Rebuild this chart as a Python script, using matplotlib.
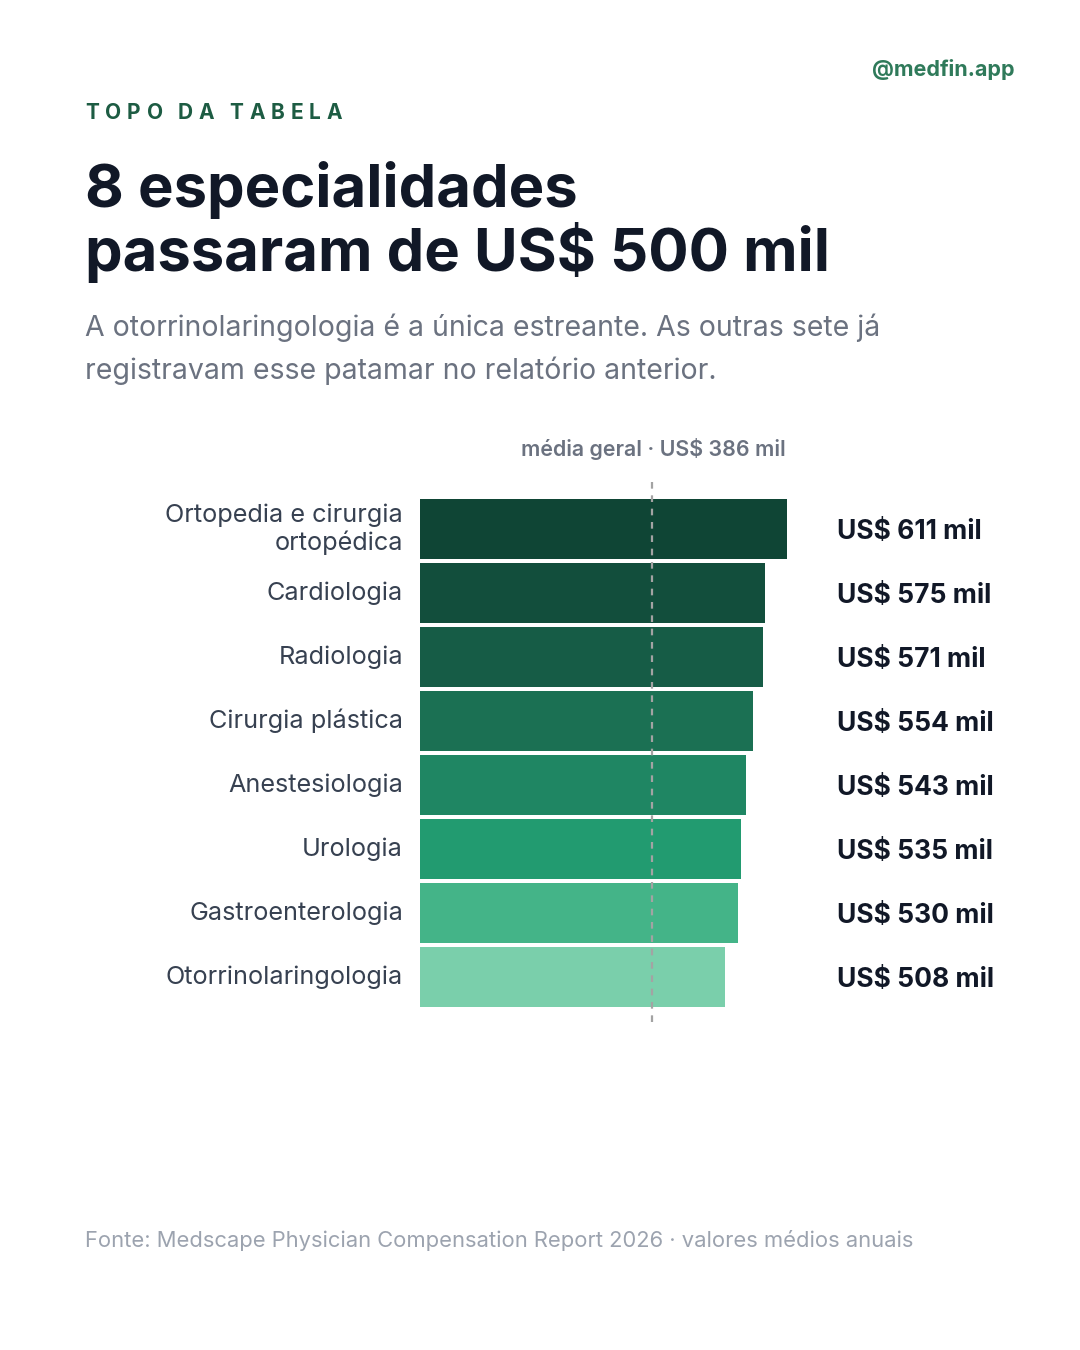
import matplotlib
matplotlib.use("Agg")
import matplotlib.pyplot as plt

# Dados
especialidades = ["Ortopedia e cirurgia\nortopédica", "Cardiologia", "Radiologia",
                  "Cirurgia plástica", "Anestesiologia", "Urologia",
                  "Gastroenterologia", "Otorrinolaringologia"]
valores = [611, 575, 571, 554, 543, 535, 530, 508]
rotulos = ["US$ 611 mil", "US$ 575 mil", "US$ 571 mil", "US$ 554 mil",
           "US$ 543 mil", "US$ 535 mil", "US$ 530 mil", "US$ 508 mil"]
media_geral = 386
cores = ["#0f4535", "#124e3c", "#165c46", "#1b7053", "#1f8663",
         "#229b70", "#44b488", "#7acfab"]

W, H = 1080, 1350
plt.rcParams["font.family"] = ["Inter", "DejaVu Sans"]

fig = plt.figure(figsize=(W / 100, H / 100), dpi=100)
fig.patch.set_facecolor("white")


def fx(x):
    return x / W


def fy(y):
    return 1 - y / H


# Cabecalho
fig.text(fx(1015), fy(76), "@medfin.app", ha="right", va="baseline",
         fontsize=15.5, fontweight="bold", color="#2f7a5a")

# "TOPO DA TABELA" com espacamento entre letras
renderer = fig.canvas.get_renderer()
x_cur = 85
for ch in "TOPO DA TABELA":
    t = fig.text(fx(x_cur), fy(119), ch, ha="left", va="baseline",
                 fontsize=15, fontweight="bold", color="#1d5c43")
    if ch == " ":
        w = 3
    else:
        w = t.get_window_extent(renderer).width
    x_cur += w + 6.0

fig.text(fx(85), fy(207), "8 especialidades", ha="left", va="baseline",
         fontsize=43, fontweight="bold", color="#111827")
fig.text(fx(85), fy(271), "passaram de US$ 500 mil", ha="left", va="baseline",
         fontsize=43, fontweight="bold", color="#111827")

fig.text(fx(85), fy(336), "A otorrinolaringologia é a única estreante. As outras sete já",
         ha="left", va="baseline", fontsize=20.5, color="#6b7280")
fig.text(fx(85), fy(379), "registravam esse patamar no relatório anterior.",
         ha="left", va="baseline", fontsize=20.5, color="#6b7280")

# Grafico
px_por_unid = (787 - 420) / 611
ax_left, ax_right = 420, 1000
ax_top, ax_bot = 480, 1022
ax = fig.add_axes([fx(ax_left), fy(ax_bot), (ax_right - ax_left) / W,
                   (ax_bot - ax_top) / H])
ax.set_xlim(0, (ax_right - ax_left) / px_por_unid)
ax.set_ylim((ax_bot - 529) / 64, (ax_top - 529) / 64)
ax.axis("off")

pos = list(range(len(valores)))
ax.barh(pos, valores, height=0.95, color=cores, zorder=2)
ax.axvline(media_geral, color="#a3a3a3", lw=1.6, ls=(0, (3, 3)), zorder=3)

for i, (nome, rot) in enumerate(zip(especialidades, rotulos)):
    ax.text(-17 / px_por_unid, i, nome, ha="right", va="center",
            multialignment="right", fontsize=18.2, color="#374151",
            linespacing=1.2)
    ax.text((837 - 420) / px_por_unid, i, rot, ha="left", va="center_baseline",
            fontsize=19, fontweight="bold", color="#111827")

fig.text(fx(653), fy(456), "média geral · US$ 386 mil", ha="center", va="baseline",
         fontsize=15.4, fontweight="semibold", color="#6b7280")

fig.text(fx(85), fy(1247), "Fonte: Medscape Physician Compensation Report 2026 · valores médios anuais",
         ha="left", va="baseline", fontsize=15.8, color="#9ca3af")

fig.savefig("out.png", dpi=100, facecolor="white")
